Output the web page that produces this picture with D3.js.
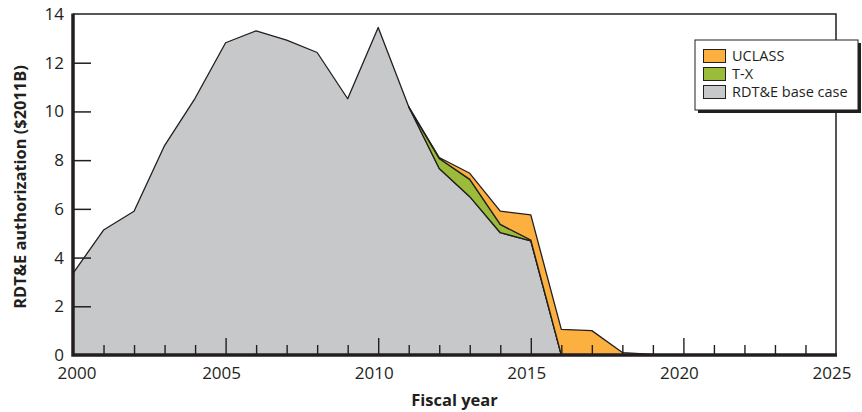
<!DOCTYPE html>
<html><head><meta charset="utf-8">
<script src="https://cdn.jsdelivr.net/npm/d3@7"></script>
<style>
body{margin:0;background:#fff;}
text{font-family:"Open Sans","Noto Sans",sans-serif;fill:#231F20;}
</style></head>
<body><svg id="c" width="862" height="412"></svg>
<script>
const years = d3.range(2000, 2026);
const baseCase = [3.35,5.13,5.9,8.6,10.54,12.82,13.31,12.93,12.42,10.52,13.45,10.19,7.66,6.5,5.02,4.69,0,0,0,0,0,0,0,0,0,0];
const tx       = [0,0,0,0,0,0,0,0,0,0,0,0,0.41,0.71,0.34,0.03,0,0,0,0,0,0,0,0,0,0];
const uclass   = [0,0,0,0,0,0,0,0,0,0,0,0,0.04,0.25,0.55,1.03,1.05,1.0,0.1,0.02,0,0,0,0,0,0];
const seriesNames = ["RDT&E base case","T-X","UCLASS"];
const colors = {"RDT&E base case":"#C7C8CA","T-X":"#9BBB3B","UCLASS":"#FBB040"};
const yTicks = [0,2,4,6,8,10,12,14];
const xLabels = [2000,2005,2010,2015,2020,2025];

const svg = d3.select("#c");
const L=73,R=836,T=14,B=355;
const x = d3.scaleLinear().domain([2000,2025]).range([L,R]);
const y = d3.scaleLinear().domain([0,14]).range([B,T]);

const table = years.map((yr,i)=>({year:yr,"RDT&E base case":baseCase[i],"T-X":tx[i],"UCLASS":uclass[i]}));
const stack = d3.stack().keys(seriesNames)(table);

const ink="#231F20";
stack.forEach(layer=>{
  const key=layer.key;
  const area=d3.area()
    .defined((d,i)=> key==="RDT&E base case" ? true : (years[i]>=2011 && years[i]<=2019))
    .x((d,i)=>x(years[i])).y0(d=>y(d[0])).y1(d=>y(d[1]));
  svg.append("path").datum(layer).attr("d",area)
    .attr("fill",colors[key]).attr("stroke",ink).attr("stroke-width",1.3).attr("stroke-linejoin","round");
});

// frame top & right
svg.append("path").attr("d",`M${L},${T}H${R}V${B}`).attr("fill","none").attr("stroke",ink).attr("stroke-width",1.5);

// y ticks
const yAxis = d3.axisRight(y).tickValues(yTicks.filter(v=>v>0&&v<14)).tickSize(18).tickFormat("");
const gy = svg.append("g").attr("transform",`translate(${L},0)`).call(yAxis);
gy.select(".domain").remove();
gy.selectAll("line").attr("stroke",ink).attr("stroke-width",1.5);
// y labels
svg.selectAll(".yl").data(yTicks).enter().append("text")
  .attr("x",L-9).attr("y",d=>y(d)+6).attr("text-anchor","end")
  .attr("font-size",17).text(d=>d);

// x ticks
const xAxisMinor = d3.axisTop(x).tickValues(years.filter(v=>v%5!==0)).tickSize(10).tickFormat("");
const gxm = svg.append("g").attr("transform",`translate(0,${B})`).call(xAxisMinor);
gxm.select(".domain").remove();
gxm.selectAll("line").attr("stroke",ink).attr("stroke-width",1.4);
const xAxisMajor = d3.axisTop(x).tickValues(xLabels.filter(v=>v>2000&&v<2025)).tickSize(17).tickFormat("");
const gxM = svg.append("g").attr("transform",`translate(0,${B})`).call(xAxisMajor);
gxM.select(".domain").remove();
gxM.selectAll("line").attr("stroke",ink).attr("stroke-width",1.4);
svg.selectAll(".xl").data(xLabels).enter().append("text")
  .attr("x",d=>x(d)+(d===2000?4:-4)).attr("y",B+24).attr("text-anchor","middle")
  .attr("font-size",17).text(d=>d);

// thick axes
svg.append("path").attr("d",`M${L},${T-0.5}V${B}H${R+1}`).attr("fill","none").attr("stroke",ink).attr("stroke-width",3.5);

// axis titles
svg.append("text").attr("x",(L+R)/2).attr("y",406).attr("text-anchor","middle")
  .attr("font-size",16.5).attr("font-weight","bold").text("Fiscal year");
svg.append("text").attr("transform",`translate(26,187) rotate(-90)`).attr("text-anchor","middle")
  .attr("font-size",16.4).attr("font-weight","bold").text("RDT&E authorization ($2011B)");

// legend
const lg = svg.append("g");
lg.append("rect").attr("x",698).attr("y",43).attr("width",163).attr("height",70).attr("fill",ink);
lg.append("rect").attr("x",695).attr("y",40).attr("width",163).attr("height",70).attr("fill","#fff").attr("stroke",ink).attr("stroke-width",1);
const legendItems=["UCLASS","T-X","RDT&E base case"];
legendItems.forEach((k,i)=>{
  const cy=56+i*18;
  lg.append("rect").attr("x",703.5).attr("y",cy-6.5).attr("width",22).attr("height",13)
    .attr("fill",colors[k]).attr("stroke",ink).attr("stroke-width",1);
  lg.append("text").attr("x",732).attr("y",cy+5).attr("font-size",14.5).text(k);
});
</script></body></html>
